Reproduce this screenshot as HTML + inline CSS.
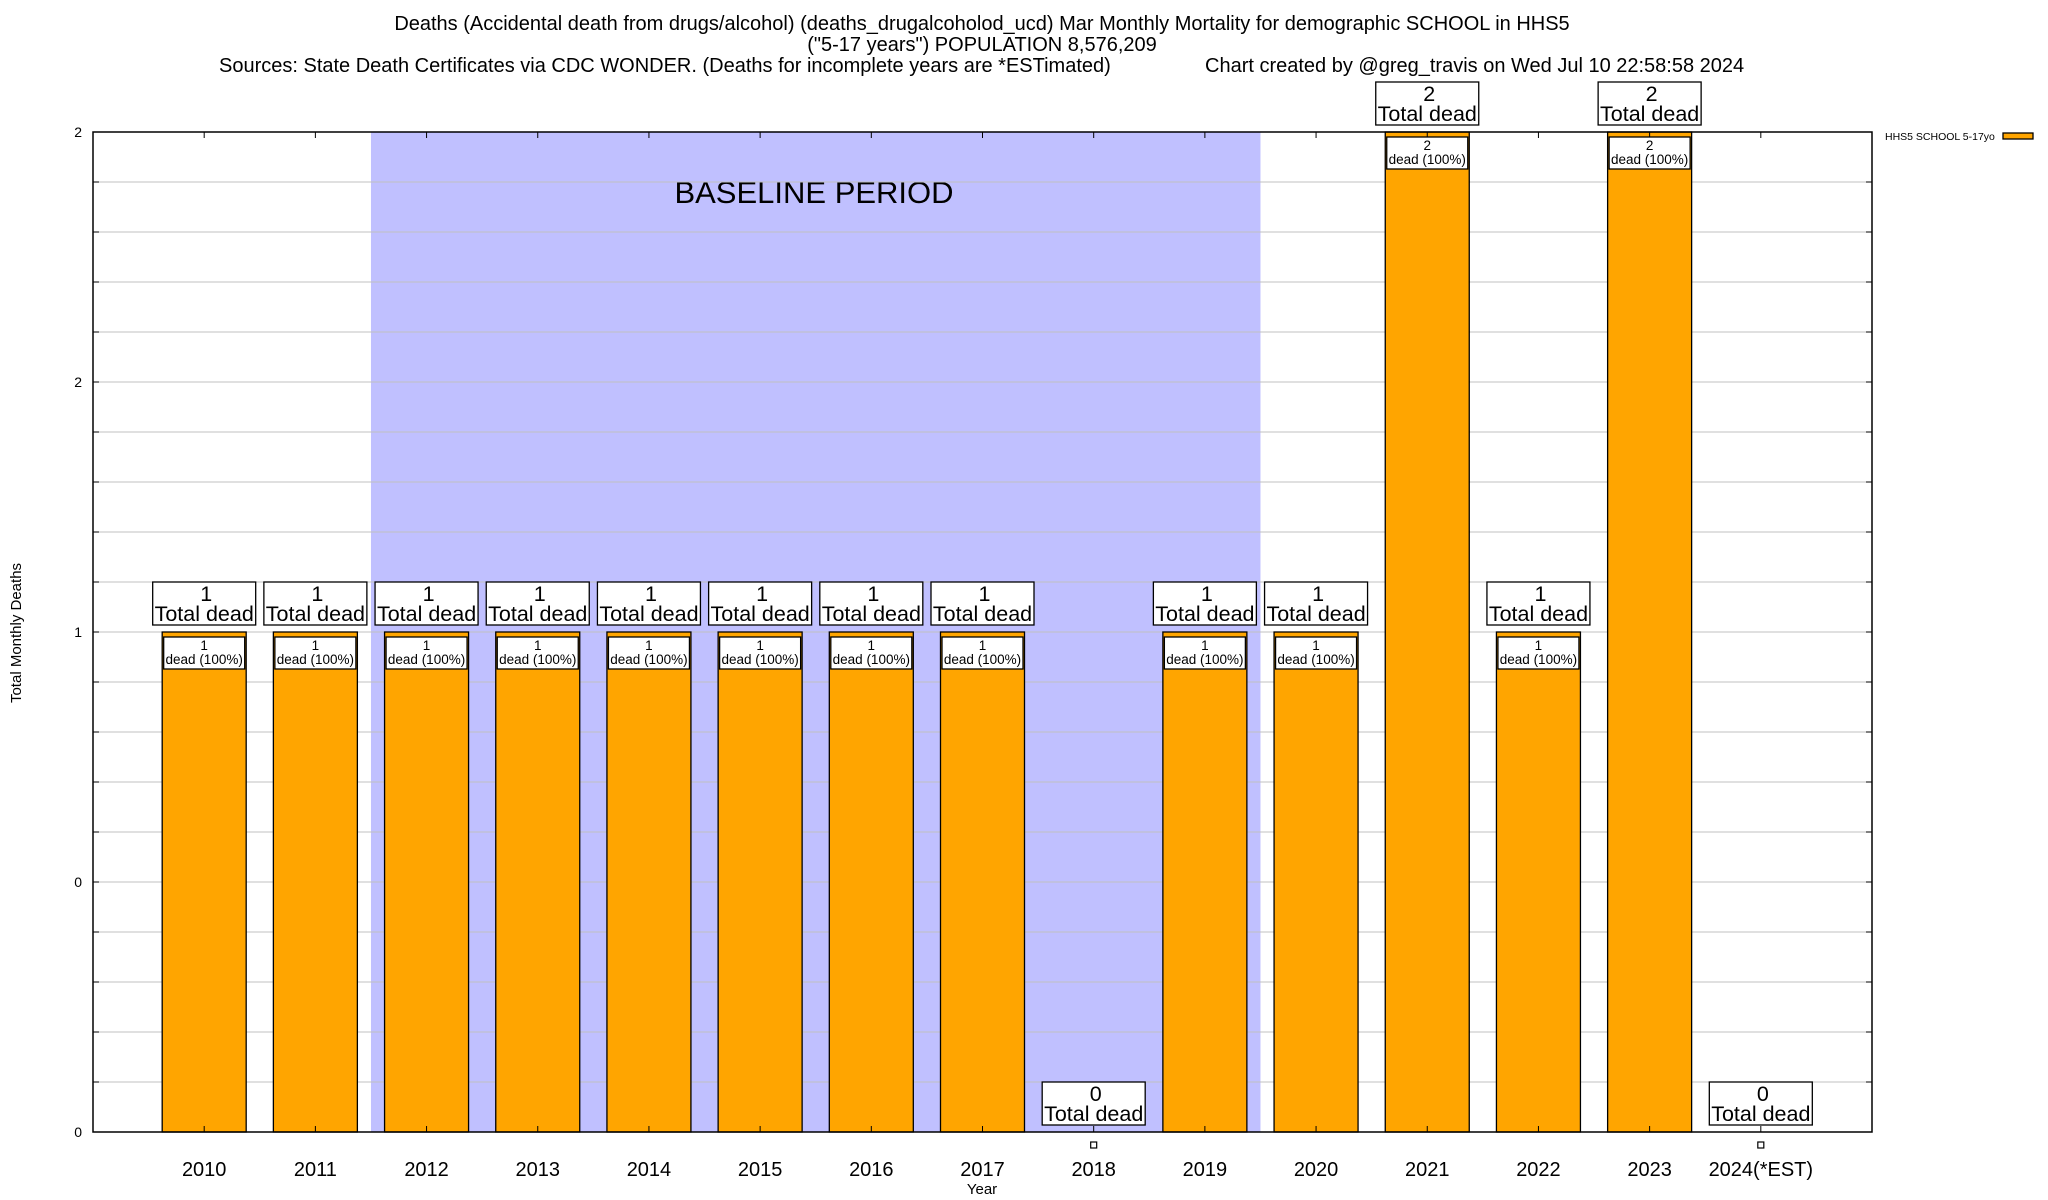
<!DOCTYPE html>
<html><head><meta charset="utf-8"><style>
html,body{margin:0;padding:0;background:#fff;}
svg{display:block;font-family:"Liberation Sans",sans-serif;}
</style></head><body>
<svg id="chart" width="2048" height="1200" xmlns="http://www.w3.org/2000/svg">
<rect x="0" y="0" width="2048" height="1200" fill="#fff"/>
<g id="bg"></g><g id="grid"></g><g id="bars"></g><g id="axes"></g><g id="labels"></g>
<text x="982" y="30" font-size="20" text-anchor="middle">Deaths (Accidental death from drugs/alcohol) (deaths_drugalcoholod_ucd) Mar Monthly Mortality for demographic SCHOOL in HHS5</text>
<text x="982" y="51" font-size="20" text-anchor="middle">("5-17 years") POPULATION 8,576,209</text>
<text x="219" y="72" font-size="20">Sources: State Death Certificates via CDC WONDER. (Deaths for incomplete years are *ESTimated)</text>
<text x="1205" y="72" font-size="20">Chart created by @greg_travis on Wed Jul 10 22:58:58 2024</text>
<text transform="translate(21,633) rotate(-90)" font-size="15" text-anchor="middle">Total Monthly Deaths</text>
<text x="982" y="1194" font-size="15" text-anchor="middle">Year</text>
<g>
<text x="1885" y="140" font-size="10.5">HHS5 SCHOOL 5-17yo</text>
<rect x="2003" y="133" width="30" height="6" fill="#ffa500" stroke="#000" stroke-width="1.3"/>
</g>
</svg>
<script>
const categories=["2010","2011","2012","2013","2014","2015","2016","2017","2018","2019","2020","2021","2022","2023","2024(*EST)"];
const deaths=[1,1,1,1,1,1,1,1,0,1,1,2,1,2,0];
const yTickValues=[0,0.5,1,1.5,2];
const yTickLabels=["0","0","1","2","2"];
const baselineStart=1.5, baselineEnd=9.5;
const L=93,R=1872,T=132,B=1132;
const NS="http://www.w3.org/2000/svg";
function X(i){return L+(i+1)*(R-L)/(categories.length+1);}
function Y(v){return B-(v/2)*(B-T);}
function mk(tag,attrs,parent,text){const e=document.createElementNS(NS,tag);for(const k in attrs)e.setAttribute(k,attrs[k]);if(text!==undefined)e.textContent=text;document.getElementById(parent).appendChild(e);return e;}
let bp=mk('rect',{x:X(baselineStart),y:T,width:X(baselineEnd)-X(baselineStart),height:B-T,fill:'#c0c0ff'},'bg');


let bt=mk('text',{x:814,y:203,'font-size':31,'text-anchor':'middle'},'bg','BASELINE PERIOD');


for(let k=1;k<20;k++){const y=Y(k/10);
 let g=mk('line',{x1:L,x2:R,y1:y,y2:y,stroke:'#c0c0c0','stroke-width':1},'grid');
 
 
 mk('line',{x1:L,x2:L+6,y1:y,y2:y,stroke:'#000','stroke-width':1},'axes');
 mk('line',{x1:R-6,x2:R,y1:y,y2:y,stroke:'#000','stroke-width':1},'axes');
}
yTickValues.forEach((v,i)=>{
 let t=mk('text',{x:82,y:Y(v)+5,'font-size':14,'text-anchor':'end'},'labels',yTickLabels[i]);
 
 
});
categories.forEach((c,i)=>{
 const cx=X(i),v=deaths[i],bw=84;
 mk('line',{x1:cx,x2:cx,y1:T,y2:T+6,stroke:'#000','stroke-width':1},'axes');
 mk('line',{x1:cx,x2:cx,y1:B-6,y2:B,stroke:'#000','stroke-width':1},'axes');
 let xl=mk('text',{x:cx,y:1176,'font-size':20,'text-anchor':'middle'},'labels',c);
 
 
 if(v>0){
  let b=mk('rect',{x:cx-bw/2,y:Y(v),width:bw,height:B-Y(v),fill:'#ffa500',stroke:'#000','stroke-width':1.3},'bars');
  
  
  const iy=Y(v)+5;
  let ib=mk('rect',{x:cx-bw/2+1.5,y:iy,width:bw-3,height:32,fill:'#fff',stroke:'#000','stroke-width':1.3},'labels');
  
  
  mk('text',{x:cx,y:iy+13,'font-size':13.5,'text-anchor':'middle'},'labels',String(v));
  mk('text',{x:cx,y:iy+27,'font-size':13.5,'text-anchor':'middle'},'labels','dead (100%)');
 } else {
  let m=mk('rect',{x:cx-3,y:1142,width:6,height:6,fill:'#fff',stroke:'#000','stroke-width':1.2},'bars');
  
  
 }
 const by=Y(v)-50;
 let tb=mk('rect',{x:cx-51.5,y:by,width:103,height:43,fill:'#fff',stroke:'#000','stroke-width':1.3},'labels');
 
 
 mk('text',{x:cx+2,y:by+19,'font-size':21.5,'text-anchor':'middle'},'labels',String(v));
 mk('text',{x:cx,y:by+39,'font-size':21.5,'text-anchor':'middle'},'labels','Total dead');
});
let fr=mk('rect',{x:L,y:T,width:R-L,height:B-T,fill:'none',stroke:'#000','stroke-width':1.5},'axes');


</script>
</body></html>
